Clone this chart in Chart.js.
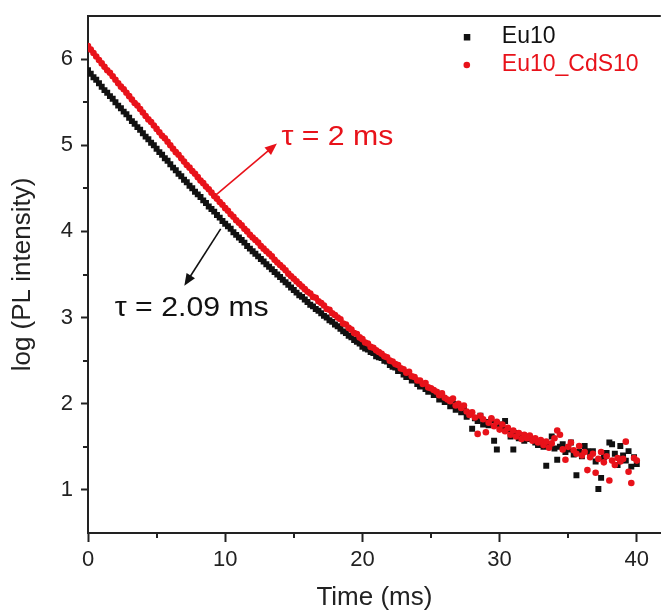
<!DOCTYPE html>
<html><head><meta charset="utf-8">
<script src="https://cdn.jsdelivr.net/npm/chart.js@4.4.0/dist/chart.umd.min.js"></script>
<style>html,body{margin:0;padding:0;background:#fff}#wrap{width:665px;height:610px}</style>
</head><body><div id="wrap"><canvas id="c" width="665" height="610"></canvas></div>
<script>
const timeMs = [
0,0.2,0.4,0.6,0.8,1,1.2,1.4,1.6,1.8,2,2.2,2.4,2.6,2.8,3,3.2,3.4,3.6,3.8,
4,4.2,4.4,4.6,4.8,5,5.2,5.4,5.6,5.8,6,6.2,6.4,6.6,6.8,7,7.2,7.4,7.6,7.8,
8,8.2,8.4,8.6,8.8,9,9.2,9.4,9.6,9.8,10,10.2,10.4,10.6,10.8,11,11.2,11.4,11.6,11.8,
12,12.2,12.4,12.6,12.8,13,13.2,13.4,13.6,13.8,14,14.2,14.4,14.6,14.8,15,15.2,15.4,15.6,15.8,
16,16.2,16.4,16.6,16.8,17,17.2,17.4,17.6,17.8,18,18.2,18.4,18.6,18.8,19,19.2,19.4,19.6,19.8,
20,20.2,20.4,20.6,20.8,21,21.2,21.4,21.6,21.8,22,22.2,22.4,22.6,22.8,23,23.2,23.4,23.6,23.8,
24,24.2,24.4,24.6,24.8,25,25.2,25.4,25.6,25.8,26,26.2,26.4,26.6,26.8,27,27.2,27.4,27.6,27.8,
28,28.2,28.4,28.6,28.8,29,29.2,29.4,29.6,29.8,30,30.2,30.4,30.6,30.8,31,31.2,31.4,31.6,31.8,
32,32.2,32.4,32.6,32.8,33,33.2,33.4,33.6,33.8,34,34.2,34.4,34.6,34.8,35,35.2,35.4,35.6,35.8,
36,36.2,36.4,36.6,36.8,37,37.2,37.4,37.6,37.8,38,38.2,38.4,38.6,38.8,39,39.2,39.4,39.6,39.8,
40];
const eu10 = [
5.87,5.83,5.79,5.76,5.72, 5.68,5.64,5.61,5.57,5.54, 5.50,5.46,5.43,5.39,5.36, 5.32,5.28,5.25,5.21,5.18,
5.14,5.10,5.07,5.03,5.00, 4.96,4.92,4.89,4.85,4.82, 4.78,4.74,4.71,4.67,4.64, 4.60,4.57,4.53,4.50,4.46,
4.43,4.40,4.36,4.33,4.29, 4.26,4.23,4.19,4.16,4.12, 4.09,4.06,4.03,3.99,3.96, 3.93,3.90,3.87,3.83,3.80,
3.77,3.74,3.71,3.68,3.65, 3.62,3.59,3.56,3.53,3.50, 3.47,3.44,3.41,3.38,3.35, 3.32,3.29,3.26,3.24,3.21,
3.18,3.15,3.13,3.10,3.08, 3.05,3.02,3.00,2.97,2.95, 2.92,2.90,2.87,2.84,2.82, 2.79,2.77,2.74,2.72,2.70,
2.66,2.64,2.63,2.60,2.59, 2.55,2.54,2.53,2.50,2.49, 2.45,2.43,2.42,2.38,2.38, 2.34,2.31,2.33,2.27,2.28,
2.23,2.20,2.23,2.17,2.14, 2.16,2.10,2.13,2.05,2.08, 2.02,2.04,1.97,2.00,1.93, 1.96,1.90,1.94,1.85,1.89,
1.71,1.83,1.80,1.86,1.76, 1.79,1.75,1.81,1.57,1.47, 1.76,1.73,1.80,1.70,1.62, 1.47,1.66,1.60,1.63,1.57,
1.61,1.59,1.59,1.55,1.52, 1.56,1.50,1.28,1.53,1.62, 1.48,1.35,1.50,1.53,1.44, 1.47,1.55,1.41,1.17,1.44,
1.39,1.51,1.45,1.40,1.45, 1.33,1.01,1.14,1.38,1.43, 1.55,1.53,1.42,1.29,1.51, 1.40,1.34,1.45,1.27,1.38,
1.30];
const eu10CdS10 = [
6.15,6.11,6.07,6.03,5.99, 5.95,5.91,5.87,5.84,5.80, 5.76,5.72,5.68,5.65,5.61, 5.57,5.53,5.49,5.46,5.42,
5.38,5.34,5.30,5.27,5.23, 5.19,5.15,5.11,5.08,5.04, 5.00,4.96,4.92,4.89,4.85, 4.81,4.77,4.74,4.70,4.67,
4.63,4.59,4.56,4.52,4.49, 4.45,4.41,4.38,4.34,4.31, 4.27,4.24,4.20,4.17,4.13, 4.10,4.07,4.03,4.00,3.96,
3.93,3.90,3.87,3.83,3.80, 3.77,3.74,3.71,3.67,3.64, 3.61,3.58,3.55,3.51,3.48, 3.45,3.42,3.39,3.36,3.33,
3.30,3.28,3.24,3.23,3.19, 3.17,3.14,3.10,3.09,3.05, 3.03,3.00,2.98,2.93,2.92, 2.88,2.86,2.82,2.81,2.77,
2.75,2.71,2.70,2.66,2.65, 2.62,2.60,2.58,2.55,2.54, 2.50,2.49,2.46,2.45,2.41, 2.40,2.36,2.37,2.32,2.31,
2.27,2.27,2.23,2.24,2.19, 2.18,2.16,2.14,2.10,2.12, 2.07,2.05,2.03,2.06,1.98, 2.00,1.95,1.98,1.91,1.87,
1.90,1.84,1.65,1.86,1.82, 1.67,1.78,1.83,1.74,1.79, 1.70,1.76,1.68,1.72,1.64, 1.69,1.62,1.66,1.59,1.64,
1.60,1.63,1.57,1.60,1.55, 1.58,1.52,1.56,1.49,1.54, 1.60,1.69,1.64,1.47,1.35, 1.50,1.55,1.46,1.42,1.51,
1.40,1.44,1.23,1.38,1.42, 1.20,1.36,1.44,1.32,1.39, 1.11,1.34,1.29,1.37,1.33, 1.36,1.56,1.21,1.08,1.37,
1.34];
const seriesNames = ['Eu10', 'Eu10_CdS10'];
const xMajorTicks = [0, 10, 20, 30, 40];
const xMinorTicks = [5, 15, 25, 35];
const yMajorTicks = [1, 2, 3, 4, 5, 6];
const yMinorTicks = [1.5, 2.5, 3.5, 4.5, 5.5];
const tauLabels = ['τ = 2.09 ms', 'τ = 2 ms'];

const RED = '#e8121a', BLACK = '#111111', AXIS = '#222222';
const FONT = "'Liberation Sans', Arial, sans-serif";

// annotation geometry (in data coordinates)
const arrowBlack = {from: [9.67, 4.03], to: [7.02, 3.37], text: [1.95, 3.02]};
const arrowRed = {from: [9.31, 4.42], to: [13.77, 5.02], text: [14.1, 5.0]};

function toPts(xs, ys) { return xs.map((x, i) => ({x: x, y: ys[i]})); }

const extras = {
  id: 'extras',
  afterDraw(chart) {
    const {ctx, chartArea: ca, scales: {x, y}} = chart;
    ctx.save();
    // top frame line
    ctx.strokeStyle = AXIS; ctx.lineWidth = 2;
    ctx.beginPath(); ctx.moveTo(ca.left, ca.top); ctx.lineTo(ca.right, ca.top); ctx.stroke();
    // minor ticks
    xMinorTicks.forEach(v => {
      const px = Math.round(x.getPixelForValue(v));
      ctx.beginPath(); ctx.moveTo(px, ca.bottom); ctx.lineTo(px, ca.bottom + 5); ctx.stroke();
    });
    yMinorTicks.forEach(v => {
      const py = Math.round(y.getPixelForValue(v));
      ctx.beginPath(); ctx.moveTo(ca.left - 5, py); ctx.lineTo(ca.left, py); ctx.stroke();
    });
    // arrows
    function arrow(a, color) {
      const x0 = x.getPixelForValue(a.from[0]), y0 = y.getPixelForValue(a.from[1]);
      const x1 = x.getPixelForValue(a.to[0]), y1 = y.getPixelForValue(a.to[1]);
      const ang = Math.atan2(y1 - y0, x1 - x0), L = 12, W = 5;
      ctx.strokeStyle = color; ctx.fillStyle = color; ctx.lineWidth = 1.6;
      ctx.beginPath(); ctx.moveTo(x0, y0);
      ctx.lineTo(x1 - (L - 2) * Math.cos(ang), y1 - (L - 2) * Math.sin(ang)); ctx.stroke();
      ctx.beginPath(); ctx.moveTo(x1, y1);
      ctx.lineTo(x1 - L * Math.cos(ang) + W * Math.sin(ang), y1 - L * Math.sin(ang) - W * Math.cos(ang));
      ctx.lineTo(x1 - L * Math.cos(ang) - W * Math.sin(ang), y1 - L * Math.sin(ang) + W * Math.cos(ang));
      ctx.closePath(); ctx.fill();
    }
    arrow(arrowRed, RED);
    arrow(arrowBlack, BLACK);
    function label(txt, pos, color) {
      ctx.save();
      ctx.translate(x.getPixelForValue(pos[0]), y.getPixelForValue(pos[1]));
      ctx.scale(1.08, 1);
      ctx.font = '28px ' + FONT; ctx.textBaseline = 'alphabetic'; ctx.textAlign = 'left';
      ctx.fillStyle = color; ctx.fillText(txt, 0, 0);
      ctx.restore();
    }
    label(tauLabels[0], arrowBlack.text, BLACK);
    label(tauLabels[1], arrowRed.text, RED);
    // legend
    const lx = ca.right - 194, ly = ca.top + 21, dy = 28;
    ctx.font = '23px ' + FONT; ctx.textBaseline = 'middle';
    ctx.fillStyle = BLACK;
    ctx.fillRect(lx - 3, ly - 3, 6.5, 6.5);
    ctx.fillText(seriesNames[0], lx + 35, ly);
    ctx.fillStyle = RED;
    ctx.beginPath(); ctx.arc(lx, ly + dy, 3.3, 0, Math.PI * 2); ctx.fill();
    ctx.fillText(seriesNames[1], lx + 35, ly + dy);
    ctx.restore();
  }
};

Chart.defaults.color = AXIS;
Chart.defaults.font.family = FONT;

new Chart(document.getElementById('c'), {
  type: 'scatter',
  data: {
    datasets: [
      {label: seriesNames[0], data: toPts(timeMs, eu10), pointStyle: 'rect', pointRadius: 4.2,
       pointBackgroundColor: BLACK, pointBorderWidth: 0, backgroundColor: BLACK, order: 1},
      {label: seriesNames[1], data: toPts(timeMs, eu10CdS10), pointStyle: 'circle', pointRadius: 3.3,
       pointBackgroundColor: RED, pointBorderWidth: 0, backgroundColor: RED, order: 0}
    ]
  },
  options: {
    responsive: false, animation: false, devicePixelRatio: 1,
    layout: {padding: {top: 16, right: 0, left: 0, bottom: 0}},
    plugins: {legend: {display: false}, tooltip: {enabled: false}},
    scales: {
      x: {
        type: 'linear', min: 0, max: 41.75,
        afterBuildTicks: s => { s.ticks = xMajorTicks.map(v => ({value: v})); },
        afterFit: s => { s.height = 77; s.paddingLeft = 0; s.paddingRight = 0; },
        ticks: {font: {size: 22}, color: AXIS, padding: 5, maxRotation: 0},
        grid: {drawOnChartArea: false, drawTicks: true, tickLength: 9, tickWidth: 2, tickColor: AXIS},
        border: {display: true, color: AXIS, width: 2},
        title: {display: true, text: 'Time (ms)', font: {size: 26, lineHeight: 0.92}, color: AXIS, padding: {top: 0, bottom: 0}}
      },
      y: {
        type: 'linear', min: 0.5, max: 6.5,
        afterBuildTicks: s => { s.ticks = yMajorTicks.map(v => ({value: v})); },
        afterFit: s => { s.width = 88; s.paddingTop = 0; s.paddingBottom = 0; },
        ticks: {font: {size: 22}, color: AXIS, padding: 8},
        grid: {drawOnChartArea: false, drawTicks: true, tickLength: 7, tickWidth: 2, tickColor: AXIS},
        border: {display: true, color: AXIS, width: 2},
        title: {display: true, text: 'log (PL intensity)', font: {size: 26, lineHeight: 1.2}, color: AXIS, padding: {top: 7, bottom: 0}}
      }
    }
  },
  plugins: [extras]
});
</script></body></html>
